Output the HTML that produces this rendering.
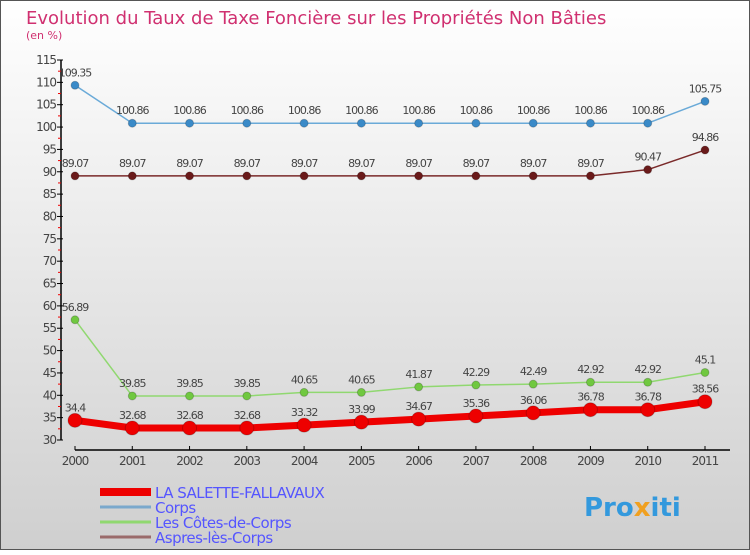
<!DOCTYPE html>
<html><head><meta charset="utf-8"><style>
body{margin:0}
svg text{font-family:"DejaVu Sans","Liberation Sans",sans-serif}
</style></head><body>
<svg id="c" width="750" height="550" xmlns="http://www.w3.org/2000/svg">
<defs><linearGradient id="bg" x1="0" y1="0" x2="0" y2="1"><stop offset="0" stop-color="#ffffff"/><stop offset="1" stop-color="#cfcfcf"/></linearGradient></defs>
<rect x="0.5" y="0.5" width="749" height="549" fill="url(#bg)" stroke="#555"/>
<text x="26" y="24" font-size="18" fill="#d03070">Evolution du Taux de Taxe Foncière sur les Propriétés Non Bâties</text>
<text x="26" y="39" font-size="11" fill="#d03070">(en %)</text>
<g id="axes"></g>
<g id="series"></g>
<g id="legend"></g>
<text x="584" y="516" font-size="26" font-weight="bold" fill="#3399dd">Pro<tspan fill="#f0a020">x</tspan><tspan fill="#3399dd">iti</tspan></text>
</svg>
<script>
const years=["2000","2001","2002","2003","2004","2005","2006","2007","2008","2009","2010","2011"];
const salette=[34.4,32.68,32.68,32.68,33.32,33.99,34.67,35.36,36.06,36.78,36.78,38.56];
const corps=[109.35,100.86,100.86,100.86,100.86,100.86,100.86,100.86,100.86,100.86,100.86,105.75];
const cotes=[56.89,39.85,39.85,39.85,40.65,40.65,41.87,42.29,42.49,42.92,42.92,45.1];
const aspres=[89.07,89.07,89.07,89.07,89.07,89.07,89.07,89.07,89.07,89.07,90.47,94.86];
const yTicks=[30,35,40,45,50,55,60,65,70,75,80,85,90,95,100,105,110,115];
const seriesNames=["LA SALETTE-FALLAVAUX","Corps","Les Côtes-de-Corps","Aspres-lès-Corps"];
const NS="http://www.w3.org/2000/svg";
const yMin=30,yMax=115,yTop=60,yBot=440,x0=75,x1=705;
const Y=v=>yBot-(v-yMin)/(yMax-yMin)*(yBot-yTop);
const X=i=>x0+i*(x1-x0)/(years.length-1);
function mk(t,a,p){const e=document.createElementNS(NS,t);for(const k in a)e.setAttribute(k,a[k]);p.appendChild(e);return e;}
const ax=document.getElementById('axes');
let l=mk('line',{x1:61,y1:yTop,x2:61,y2:yBot,stroke:'#000','stroke-width':1.5},ax);


yTicks.forEach((v,i)=>{
 const y=Y(v);
 let t=mk('line',{x1:57,y1:y,x2:63,y2:y,stroke:'#000'},ax);
 
 
 let tx=mk('text',{x:56,y:y+4,'font-size':12,'text-anchor':'end',fill:'#444','letter-spacing':'-1'},ax);tx.textContent=v;
 
 
 if(i<yTicks.length-1){const ym=Y(v+2.5);let m=mk('line',{x1:58,y1:ym,x2:61,y2:ym,stroke:'#e00'},ax);
 
 }
});
l=mk('line',{x1:x0,y1:450,x2:x1+25,y2:450,stroke:'#000','stroke-width':1.5},ax);


years.forEach((yr,i)=>{
 let t=mk('line',{x1:X(i),y1:446,x2:X(i),y2:450,stroke:'#000'},ax);
 
 
 let tx=mk('text',{x:X(i),y:465,'font-size':12,'text-anchor':'middle',fill:'#444','letter-spacing':'-1'},ax);tx.textContent=yr;
 
 
});
const sg=document.getElementById('series');
function draw(vals,color,w,r,name,dot){
 const g=mk('g',{},sg);
 
 
 let p=mk('polyline',{points:vals.map((v,i)=>X(i)+','+Y(v)).join(' '),fill:'none',stroke:color,'stroke-width':w,'stroke-linejoin':'round'},g);
 
 
 vals.forEach((v,i)=>{
  let c=mk('circle',{cx:X(i),cy:Y(v),r:r,fill:dot,stroke:'rgba(0,0,0,0.2)'},g);
  
  
  let t=mk('text',{x:X(i),y:Y(v)-9,'font-size':11,'text-anchor':'middle',fill:'#444','letter-spacing':'-1'},g);t.textContent=v;
  
  
 });
}
draw(corps,'#6aaad8',1.5,4,'corps','#3a8ac8');
draw(aspres,'#7a2a2a',1.5,4,'aspres','#6a1a1a');
draw(cotes,'#90d870',1.5,4,'cotes','#70c840');
draw(salette,'#ee0000',7,7,'salette','#ee0000');
const lg=document.getElementById('legend');
const lc=['#ee0000','#7aa8cc','#90d870','#9a6a6a'],lw=[8,3,3,3],ly=[492,507,522,537];
seriesNames.forEach((n,i)=>{
 let li=mk('line',{x1:100,y1:ly[i],x2:151,y2:ly[i],stroke:lc[i],'stroke-width':lw[i]},lg);
 
 
 let t=mk('text',{x:155,y:ly[i]+6,'font-size':15,fill:'#5555ff','letter-spacing':'-0.5'},lg);t.textContent=n;
 
 
});
</script>
</body></html>
